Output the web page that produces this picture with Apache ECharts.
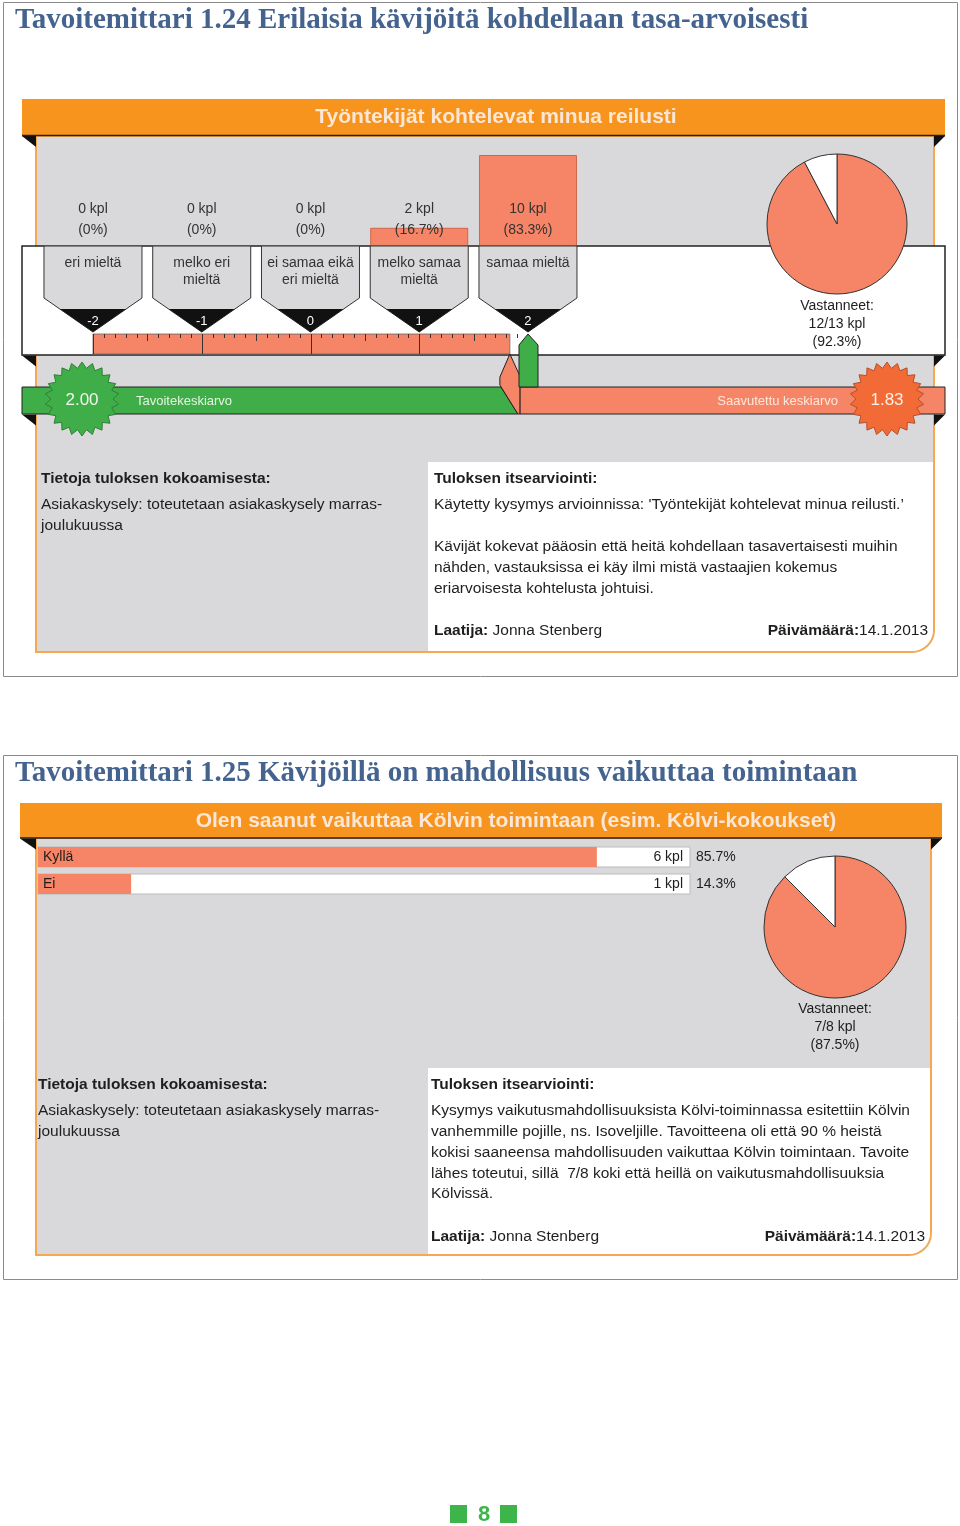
<!DOCTYPE html>
<html><head><meta charset="utf-8">
<script src="https://cdn.jsdelivr.net/npm/echarts/dist/echarts.min.js"></script>
<style>html,body{margin:0;padding:0;background:#fff}#c{width:960px;height:1526px}</style>
</head><body><div id="c"></div>
<script>
// ---------- DATA ----------
const titles = ['Tavoitemittari 1.24 Erilaisia kävijöitä kohdellaan tasa-arvoisesti',
                'Tavoitemittari 1.25 Kävijöillä on mahdollisuus vaikuttaa toimintaan'];
const questions = ['Työntekijät kohtelevat minua reilusti',
                   'Olen saanut vaikuttaa Kölvin toimintaan (esim. Kölvi-kokoukset)'];
const scaleCategories = ['eri mieltä', 'melko eri\nmieltä', 'ei samaa eikä\neri mieltä', 'melko samaa\nmieltä', 'samaa mieltä'];
const scaleValues = [-2, -1, 0, 1, 2];
const scaleCounts = [0, 0, 0, 2, 10];
const targetAverage = 2.00;
const respondents1 = [12, 13];
const yesNoCategories = ['Kyllä', 'Ei'];
const yesNoCounts = [6, 1];
const respondents2 = [7, 8];
const infoHeading = 'Tietoja tuloksen kokoamisesta:';
const infoText = 'Asiakaskysely: toteutetaan asiakaskysely marras-\njoulukuussa';
const evalHeading = 'Tuloksen itsearviointi:';
const evalText1 = "Käytetty kysymys arvioinnissa: 'Työntekijät kohtelevat minua reilusti.’\n\nKävijät kokevat pääosin että heitä kohdellaan tasavertaisesti muihin\nnähden, vastauksissa ei käy ilmi mistä vastaajien kokemus\neriarvoisesta kohtelusta johtuisi.";
const evalText2 = 'Kysymys vaikutusmahdollisuuksista Kölvi-toiminnassa esitettiin Kölvin\nvanhemmille pojille, ns. Isoveljille. Tavoitteena oli että 90 % heistä\nkokisi saaneensa mahdollisuuden vaikuttaa Kölvin toimintaan. Tavoite\nlähes toteutui, sillä  7/8 koki että heillä on vaikutusmahdollisuuksia\nKölvissä.';
const author = 'Jonna Stenberg';
const dateText = '14.1.2013';
const pageNumber = '8';

// ---------- DERIVED ----------
const total1 = scaleCounts.reduce((a, b) => a + b, 0);
const avg1 = scaleCounts.reduce((s, c, i) => s + c * scaleValues[i], 0) / total1;
const total2 = yesNoCounts.reduce((a, b) => a + b, 0);

// ---------- STYLE ----------
const SALMON = '#F58566', ORANGE = '#F7941D', GRAY = '#D9D9DB', GREEN = '#3FAE49',
      BADGE_OR = '#F26B36', EDGE = '#F5A850', DARK = '#1e1e1e';
const FONT = '"Liberation Sans", Arial, sans-serif';
const SERIF = '"Liberation Serif", "DejaVu Serif", serif';
const BODY = 15.5;

function txt(x, y, text, o) {
  o = o || {};
  const st = {
    x: x, y: y, text: text, fill: o.fill || DARK,
    font: (o.weight || 'normal') + ' ' + (o.size || BODY) + 'px ' + (o.family || FONT),
    textAlign: o.align || 'left', align: o.align || 'left',
    textVerticalAlign: o.va || 'middle', verticalAlign: o.va || 'middle'
  };
  if (o.lh) st.lineHeight = o.lh;
  if (o.rich) st.rich = o.rich;
  return { type: 'text', z: o.z || 20, style: st };
}
function star(cx, cy, ro, ri, n) {
  const pts = [];
  for (let i = 0; i < 2 * n; i++) {
    const a = Math.PI * i / n - Math.PI / 2;
    const r = i % 2 ? ri : ro;
    pts.push([cx + r * Math.cos(a), cy + r * Math.sin(a)]);
  }
  return pts;
}
const boldRich = {
  b: { fontFamily: FONT, fontSize: BODY, fontWeight: 'bold', fill: DARK, color: DARK },
  n: { fontFamily: FONT, fontSize: BODY, fill: DARK, color: DARK }
};
function tri(pts) { return { type: 'polygon', shape: { points: pts }, style: { fill: '#111' } }; }
function ribbonTriangles(yb, L, Li, R, Ri) {
  return [tri([[L, yb], [Li, yb], [Li, yb + 11]]), tri([[R, yb], [Ri, yb], [Ri, yb + 11]])];
}

// ---------- BACKGROUND GRAPHICS ----------
const g = [];
g.push({ type: 'rect', shape: { x: 3.5, y: 2.5, width: 954, height: 674 }, style: { fill: '#fff', stroke: '#8a8a8a', lineWidth: 1 } });
g.push({ type: 'rect', shape: { x: 3.5, y: 755.5, width: 954, height: 524 }, style: { fill: '#fff', stroke: '#8a8a8a', lineWidth: 1 } });
g.push(txt(15, 21, titles[0], { family: SERIF, weight: 'bold', size: 29, fill: '#44638F' }));
g.push(txt(15, 774, titles[1], { family: SERIF, weight: 'bold', size: 29, fill: '#44638F' }));

// panel 1 body
g.push({ type: 'rect', shape: { x: 36, y: 136, width: 898, height: 516, r: [0, 0, 22, 0] }, style: { fill: GRAY, stroke: EDGE, lineWidth: 2 } });
g.push({ type: 'rect', shape: { x: 428, y: 462, width: 505, height: 189, r: [0, 0, 21, 0] }, style: { fill: '#fff' } });
g.push({ type: 'rect', shape: { x: 22, y: 246, width: 923, height: 109 }, style: { fill: '#fff', stroke: '#222', lineWidth: 1.5 } });
g.push(...ribbonTriangles(355.5, 22, 36, 945, 934));
g.push(...ribbonTriangles(414.5, 22, 36, 945, 934));
g.push({ type: 'rect', shape: { x: 22, y: 99, width: 923, height: 36 }, style: { fill: ORANGE } });
g.push({ type: 'line', shape: { x1: 22, y1: 135.5, x2: 945, y2: 135.5 }, style: { stroke: '#222', lineWidth: 1.5 } });
g.push(...ribbonTriangles(136, 22, 36, 945, 934));
g.push(txt(496, 117, questions[0], { weight: 'bold', size: 21, align: 'center', fill: '#FCE6D6' }));
g.push(txt(837, 324, 'Vastanneet:\n' + respondents1[0] + '/' + respondents1[1] + ' kpl\n(' + (respondents1[0] / respondents1[1] * 100).toFixed(1) + '%)',
  { size: 14, align: 'center', lh: 18 }));
g.push(txt(41, 479, infoHeading, { weight: 'bold' }));
g.push(txt(41, 494.5, infoText, { va: 'top', lh: 21 }));
g.push(txt(434, 479, evalHeading, { weight: 'bold' }));
g.push(txt(434, 494.5, evalText1, { va: 'top', lh: 21 }));
g.push(txt(434, 631, '{b|Laatija:}{n| ' + author + '}', { rich: boldRich }));
g.push(txt(928, 631, '{b|Päivämäärä:}{n|' + dateText + '}', { rich: boldRich, align: 'right' }));

// panel 2 body
g.push({ type: 'rect', shape: { x: 36, y: 838, width: 895, height: 417, r: [0, 0, 22, 0] }, style: { fill: GRAY, stroke: EDGE, lineWidth: 2 } });
g.push({ type: 'rect', shape: { x: 428, y: 1068, width: 502, height: 186, r: [0, 0, 21, 0] }, style: { fill: '#fff' } });
g.push({ type: 'rect', shape: { x: 20, y: 803, width: 922, height: 35 }, style: { fill: ORANGE } });
g.push({ type: 'line', shape: { x1: 20, y1: 838, x2: 942, y2: 838 }, style: { stroke: '#222', lineWidth: 1.5 } });
g.push(...ribbonTriangles(838.5, 20, 36, 942, 931));
g.push(txt(516, 821, questions[1], { weight: 'bold', size: 21, align: 'center', fill: '#FCE6D6' }));
g.push(txt(835, 1027, 'Vastanneet:\n' + respondents2[0] + '/' + respondents2[1] + ' kpl\n(' + (respondents2[0] / respondents2[1] * 100).toFixed(1) + '%)',
  { size: 14, align: 'center', lh: 18 }));
g.push(txt(38, 1085, infoHeading, { weight: 'bold' }));
g.push(txt(38, 1100.5, infoText, { va: 'top', lh: 21 }));
g.push(txt(431, 1085, evalHeading, { weight: 'bold' }));
g.push(txt(431, 1100.5, evalText2, { va: 'top', lh: 20.8 }));
g.push(txt(431, 1237, '{b|Laatija:}{n| ' + author + '}', { rich: boldRich }));
g.push(txt(925, 1237, '{b|Päivämäärä:}{n|' + dateText + '}', { rich: boldRich, align: 'right' }));

// footer
g.push({ type: 'rect', shape: { x: 450, y: 1505, width: 17, height: 18 }, style: { fill: '#3DB54A' } });
g.push({ type: 'rect', shape: { x: 500, y: 1505, width: 17, height: 18 }, style: { fill: '#3DB54A' } });
g.push(txt(484, 1515, pageNumber, { weight: 'bold', size: 22, align: 'center', fill: '#3DB54A' }));

// ---------- RENDERERS ----------
function renderScaleBoxes(params, api) {
  const i = params.dataIndex;
  const p = api.coord([i, 0]);
  const cx = p[0], b = p[1];
  const hw = 49;
  const cnt = scaleCounts[i];
  const pct = cnt === 0 ? '0%' : (cnt / total1 * 100).toFixed(1) + '%';
  return { type: 'group', children: [
    { type: 'polygon', shape: { points: [[cx - hw, b], [cx + hw, b], [cx + hw, b + 52], [cx, b + 86], [cx - hw, b + 52]] },
      style: { fill: GRAY, stroke: '#333', lineWidth: 1 } },
    { type: 'polygon', shape: { points: [[cx - 33, b + 63], [cx + 33, b + 63], [cx, b + 86]] }, style: { fill: '#111' } },
    txt(cx, b + 9, scaleCategories[i], { align: 'center', va: 'top', size: 14, lh: 17, fill: '#333' }),
    txt(cx, b + 75, String(scaleValues[i]), { align: 'center', size: 13, fill: '#fff' }),
    txt(cx, b - 37, cnt + ' kpl', { align: 'center', size: 14, fill: '#333' }),
    txt(cx, b - 16, '(' + pct + ')', { align: 'center', size: 14, fill: '#333' })
  ] };
}
function renderRuler(params, api) {
  const lo = scaleValues[0], hi = scaleValues[scaleValues.length - 1];
  const a = api.coord([lo, 1]);
  const c = api.coord([api.value(0), 0]);
  const children = [{ type: 'rect', shape: { x: a[0], y: a[1], width: c[0] - a[0], height: c[1] - a[1] },
           style: { fill: SALMON, stroke: '#666', lineWidth: 0.8 } }];
  const steps = Math.round((hi - lo) * 10);
  for (let k = 0; k <= steps; k++) {
    const v = lo + k / 10;
    const t = api.coord([v, 1]), bt = api.coord([v, 0]);
    const len = k % 10 === 0 ? (bt[1] - t[1]) : (k % 5 === 0 ? 7 : 4);
    const x = Math.round(t[0]) + 0.5;
    children.push({ type: 'line', shape: { x1: x, y1: t[1], x2: x, y2: t[1] + len },
      style: { stroke: '#333', lineWidth: 1 } });
  }
  return { type: 'group', children: children };
}
function renderGauge(params, api) {
  const avg = api.value(0), tgt = api.value(1);
  const xs = api.coord([avg, 0])[0];
  const xt = api.coord([tgt, 0])[0];
  const top = api.coord([avg, 0])[1];
  const y0 = 387, y1 = 414, L = 22, R = 945;
  const line = { stroke: '#222', lineWidth: 1 };
  return { type: 'group', children: [
    { type: 'polygon', shape: { points: [[L, y0], [xs - 9, y0], [xs + 8, y1], [L, y1]] }, style: Object.assign({ fill: GREEN }, line) },
    { type: 'rect', shape: { x: xs + 10, y: y0, width: R - xs - 10, height: y1 - y0 }, style: Object.assign({ fill: SALMON }, line) },
    { type: 'polygon', shape: { points: [[xs, top], [xs + 10, top + 22], [xs + 10, y1], [xs + 8, y1], [xs - 10, y0 - 2], [xs - 10, top + 23]] },
      style: Object.assign({ fill: SALMON }, line) },
    { type: 'polygon', shape: { points: [[xt, 334], [xt + 10, 345], [xt + 10, y0], [xt - 9, y0], [xt - 9, 345]] },
      style: Object.assign({ fill: GREEN }, line) },
    txt(136, 401, 'Tavoitekeskiarvo', { size: 13, fill: '#E8F4E2' }),
    txt(838, 401, 'Saavutettu keskiarvo', { size: 13, fill: '#FDE8DC', align: 'right' }),
    { type: 'polygon', shape: { points: star(82, 399, 37, 31, 22) }, style: { fill: GREEN, stroke: '#2f7f36', lineWidth: 1 } },
    { type: 'polygon', shape: { points: star(887, 399, 37, 31, 22) }, style: { fill: BADGE_OR, stroke: '#b4502a', lineWidth: 1 } },
    txt(82, 400, tgt.toFixed(2), { size: 17, align: 'center', fill: '#F2F6EC' }),
    txt(887, 400, avg.toFixed(2), { size: 17, align: 'center', fill: '#FBEFE6' })
  ] };
}
function renderYesNoLabels(params, api) {
  const v = api.value(0), i = api.value(1);
  const p = api.coord([total2, i]);
  return { type: 'group', children: [
    txt(p[0] - 7, p[1], v + ' kpl', { size: 14, align: 'right' }),
    txt(p[0] + 6, p[1], (v / total2 * 100).toFixed(1) + '%', { size: 14 })
  ] };
}

// ---------- CHART ----------
const chart = echarts.init(document.getElementById('c'), null, { renderer: 'canvas' });
chart.setOption({
  animation: false,
  graphic: { elements: g },
  grid: [
    { left: 38.6, top: 155, width: 543.75, height: 91 },
    { left: 93, top: 334, width: 435, height: 20 },
    { left: 38, top: 843.5, width: 652, height: 54 }
  ],
  xAxis: [
    { gridIndex: 0, type: 'category', data: scaleCategories, show: false },
    { gridIndex: 1, type: 'value', min: scaleValues[0], max: scaleValues[scaleValues.length - 1], show: false },
    { gridIndex: 2, type: 'value', min: 0, max: total2, show: false }
  ],
  yAxis: [
    { gridIndex: 0, type: 'value', min: 0, max: 10, show: false },
    { gridIndex: 1, type: 'value', min: 0, max: 1, show: false },
    { gridIndex: 2, type: 'category', data: yesNoCategories, inverse: true, z: 10,
      axisLine: { show: false }, axisTick: { show: false }, splitLine: { show: false },
      axisLabel: { inside: true, margin: 5, color: DARK, fontSize: 14, fontFamily: FONT } }
  ],
  series: [
    { type: 'bar', xAxisIndex: 0, yAxisIndex: 0, data: scaleCounts, barWidth: 98, z: 2, silent: true,
      itemStyle: { color: SALMON, borderColor: '#D0664A', borderWidth: 1 } },
    { type: 'custom', xAxisIndex: 0, yAxisIndex: 0, z: 3, silent: true,
      data: scaleCategories.map((c, i) => [i, scaleCounts[i]]), renderItem: renderScaleBoxes },
    { type: 'pie', center: [837, 224], radius: 70, startAngle: 90, clockwise: true, z: 4, silent: true,
      label: { show: false }, labelLine: { show: false },
      itemStyle: { borderColor: '#333', borderWidth: 1 },
      data: [{ value: respondents1[0], itemStyle: { color: SALMON } },
             { value: respondents1[1] - respondents1[0], itemStyle: { color: '#fff' } }] },
    { type: 'custom', xAxisIndex: 1, yAxisIndex: 1, z: 2, silent: true, data: [[avg1]], renderItem: renderRuler },
    { type: 'custom', xAxisIndex: 1, yAxisIndex: 1, z: 12, silent: true, data: [[avg1, targetAverage]], renderItem: renderGauge },
    { type: 'bar', xAxisIndex: 2, yAxisIndex: 2, data: yesNoCounts, barWidth: 20, z: 2, silent: true,
      showBackground: true, backgroundStyle: { color: '#fff', borderColor: '#bbb', borderWidth: 1 },
      itemStyle: { color: SALMON } },
    { type: 'custom', xAxisIndex: 2, yAxisIndex: 2, z: 5, silent: true,
      data: yesNoCounts.map((v, i) => [v, i]), renderItem: renderYesNoLabels },
    { type: 'pie', center: [835, 927], radius: 71, startAngle: 90, clockwise: true, z: 4, silent: true,
      label: { show: false }, labelLine: { show: false },
      itemStyle: { borderColor: '#333', borderWidth: 1 },
      data: [{ value: respondents2[0], itemStyle: { color: SALMON } },
             { value: respondents2[1] - respondents2[0], itemStyle: { color: '#fff' } }] }
  ]
});
</script></body></html>
